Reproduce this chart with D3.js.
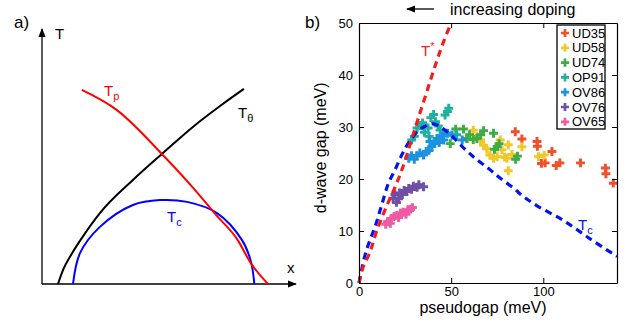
<!DOCTYPE html>
<html>
<head>
<meta charset="utf-8">
<script src="https://cdn.jsdelivr.net/npm/d3@7"></script>
<style>
  body { margin: 0; background: #fff; }
  svg { display: block; font-family: "Liberation Sans", Arial, sans-serif; }
</style>
</head>
<body>
<svg id="chart" width="632" height="325"></svg>
<script>
// ---- panel a: schematic curves (normalized units) ----
const thetaCurve = [[0.063,0],[0.085,0.06],[0.115,0.115],[0.160,0.185],[0.228,0.278],[0.358,0.408],[0.472,0.510],[0.594,0.616],[0.701,0.698],[0.795,0.765]];
const pairCurve = [[0.157,0.761],[0.295,0.682],[0.472,0.510],[0.596,0.376],[0.685,0.271],[0.770,0.173],[0.822,0.082],[0.890,0]];
const tcDome = [[0.122,0],[0.150,0.122],[0.228,0.224],[0.358,0.310],[0.465,0.329],[0.571,0.322],[0.689,0.278],[0.787,0.173],[0.822,0.090],[0.836,0]];

// ---- panel b: gap data (meV) ----
const seriesNames = ["UD35", "UD58", "UD74", "OP91", "OV86", "OV76", "OV65"];
const seriesColors = ["#f0512a", "#f1c72a", "#3cad45", "#20b09e", "#1b93e0", "#6e50a6", "#ef5aa5"];
const ud35 = [[84.8,29.1],[88.4,27.7],[96.6,27.2],[96.8,26.3],[99,23],[101,23.1],[104.7,25.3],[107,22.6],[109,23.1],[120.2,23.1],[133.7,22.1],[134,21],[138,19.2]];
const ud58 = [[59,27.8],[62,29.4],[64,28.2],[66,27.5],[67.6,26.5],[69.4,25.8],[71,24.6],[73,24],[75,24.3],[76.6,27.5],[77.6,25.6],[79,24.2],[80.3,24],[81,26.6],[81,21.6],[83,24.7],[88.4,26.2],[97.4,24.3],[100.5,24.6]];
const ud74 = [[49.5,26.8],[52.5,29.6],[56.7,29.6],[58.5,27.8],[60,28.5],[62,27.6],[64,27.8],[66,28.5],[67.6,29.3],[73,28.8],[73.5,25.7],[75,26.2],[76,26.8],[85,23.8],[86,24.4]];
const op91 = [[28.6,27.5],[30,28.2],[31.5,29.8],[33,30.3],[34.5,30.8],[35.5,29],[37.5,29.8],[39,31.8],[40.5,32.4],[41.5,31],[43,30.2],[44,29.4],[45.8,28.8],[46.7,32.3],[48,33],[48.7,33.6],[38,28.2],[53,28.5]];
const ov86 = [[27,24],[28.5,24.5],[30,23.8],[31.5,24.5],[33,25],[35,24.6],[36.5,25.3],[38,25.5],[39.5,26.3],[41,26.8],[42.3,27.8],[43.5,27],[45,28.3],[46,27.5],[48,28.8],[50.5,28.4],[56,27.5],[38.5,27.2]];
const ov76 = [[18.5,16.3],[19.5,17],[20.3,15.5],[21.5,16.2],[22,17.3],[23.5,17],[24.5,17.8],[26,17.6],[27,18.2],[28.5,18],[29.5,18.6],[31.5,18.4],[32.5,18.9],[35,18.5]];
const ov65 = [[14.5,11.3],[15.5,11.8],[17,11.5],[17.5,12.4],[19,12.8],[20.5,13],[21.5,12.6],[22.5,13.4],[24,13.6],[25.5,13.2],[26.5,14.1],[28,14.2],[29,14.5]];
const seriesData = [ud35, ud58, ud74, op91, ov86, ov76, ov65];

const tStarLine = [[0,0],[2,2.8],[6,6],[9.6,10],[15,14.8],[20,18.8],[24,22.5],[28,27],[32,31.5],[37,37],[42,42.5],[46,46.5],[50,50]];
const tcLine = [[0,0],[3.3,5.4],[6,8.3],[8.7,10.8],[12.3,15],[16,19.2],[19.6,21.8],[23.2,24.6],[26.8,26.9],[33,29.5],[40,30.6],[47.7,29.1],[56.7,26],[63,24],[70.3,22],[76.5,20.2],[84,18.2],[89.3,16.6],[96.4,14.9],[111,12],[125.4,8.5],[140,5.1]];

const xTicks = [0, 50, 100];
const yTicks = [0, 10, 20, 30, 40, 50];

const svg = d3.select("#chart");

// ===== panel a =====
const ax = d3.scaleLinear().domain([0, 1]).range([42, 296]);
const ay = d3.scaleLinear().domain([0, 1]).range([284, 29]);
const aLine = d3.line().x(d => ax(d[0])).y(d => ay(d[1])).curve(d3.curveMonotoneX);
const domeLine = d3.line().x(d => ax(d[0])).y(d => ay(d[1])).curve(d3.curveCatmullRom);

const defs = svg.append("defs");
defs.append("marker")
  .attr("id", "arrow")
  .attr("viewBox", "0 0 10 10")
  .attr("refX", 9).attr("refY", 5)
  .attr("markerWidth", 9).attr("markerHeight", 9)
  .attr("markerUnits", "userSpaceOnUse")
  .attr("orient", "auto")
  .append("path").attr("d", "M0,1 L10,5 L0,9 Z").attr("fill", "#000");

const pa = svg.append("g").attr("class", "panel-a");
pa.append("line")
  .attr("x1", ax(0)).attr("y1", ay(0)).attr("x2", ax(0)).attr("y2", ay(1))
  .attr("stroke", "#000").attr("stroke-width", 1.3).attr("marker-end", "url(#arrow)");
pa.append("line")
  .attr("x1", ax(0)).attr("y1", ay(0)).attr("x2", ax(1)).attr("y2", ay(0))
  .attr("stroke", "#000").attr("stroke-width", 1.3).attr("marker-end", "url(#arrow)");

pa.append("path").datum(thetaCurve).attr("d", aLine)
  .attr("fill", "none").attr("stroke", "#000").attr("stroke-width", 2);
pa.append("path").datum(tcDome).attr("d", domeLine)
  .attr("fill", "none").attr("stroke", "#0000ff").attr("stroke-width", 2);
pa.append("path").datum(pairCurve).attr("d", aLine)
  .attr("fill", "none").attr("stroke", "#ff0000").attr("stroke-width", 2);

pa.append("text").attr("x", 14).attr("y", 28).attr("font-size", 17).text("a)");
pa.append("text").attr("x", 55).attr("y", 39).attr("font-size", 15).text("T");
pa.append("text").attr("x", 287).attr("y", 273).attr("font-size", 15).text("x");

function subLabel(g, px, py, main, sub, color, supMode) {
  const t = g.append("text").attr("x", px).attr("y", py).attr("font-size", 15).attr("fill", color);
  t.append("tspan").text(main);
  t.append("tspan").attr("font-size", 11).attr("dy", supMode ? -6 : 4).text(sub);
}
subLabel(pa, 104, 96, "T", "p", "#ff0000");
subLabel(pa, 238, 118, "T", "θ", "#000");
subLabel(pa, 167, 222, "T", "c", "#0000ff");

// ===== panel b =====
const x = d3.scaleLinear().domain([0, 140]).range([359, 617]);
const y = d3.scaleLinear().domain([0, 50]).range([283, 23]);
const pb = svg.append("g").attr("class", "panel-b");

// scatter
const cross = d3.symbol().type(d3.symbolCross).size(44);
seriesData.forEach((pts, i) => {
  pb.append("g").selectAll("path")
    .data(pts)
    .join("path")
    .attr("d", cross)
    .attr("transform", d => `translate(${x(d[0])},${y(d[1])})`)
    .attr("fill", seriesColors[i]);
});

// dashed curves
const bLine = d3.line().x(d => x(d[0])).y(d => y(d[1])).curve(d3.curveCatmullRom);
pb.append("path").datum(tcLine).attr("d", bLine)
  .attr("fill", "none").attr("stroke", "#0014ee").attr("stroke-width", 3.2)
  .attr("stroke-dasharray", "7,5");
pb.append("path").datum(tStarLine).attr("d", bLine)
  .attr("fill", "none").attr("stroke", "#f41c1c").attr("stroke-width", 3.2)
  .attr("stroke-dasharray", "7,5");

// axes: inward ticks on all four sides
const tickLen = 5;
const axBottom = pb.append("g").attr("transform", `translate(0,${y(0)})`)
  .call(d3.axisBottom(x).tickValues(xTicks).tickSizeInner(-tickLen).tickSizeOuter(0).tickPadding(4));
const axLeft = pb.append("g").attr("transform", `translate(${x(0)},0)`)
  .call(d3.axisLeft(y).tickValues(yTicks).tickSizeInner(-tickLen).tickSizeOuter(0).tickPadding(6));
const axTop = pb.append("g").attr("transform", `translate(0,${y(50)})`)
  .call(d3.axisTop(x).tickValues(xTicks).tickSizeInner(-tickLen).tickSizeOuter(0).tickFormat(""));
const axRight = pb.append("g").attr("transform", `translate(${x(140)},0)`)
  .call(d3.axisRight(y).tickValues(yTicks).tickSizeInner(-tickLen).tickSizeOuter(0).tickFormat(""));
[axBottom, axLeft, axTop, axRight].forEach(g => {
  g.selectAll("path.domain").attr("stroke", "#000").attr("stroke-width", 1.2);
  g.selectAll(".tick line").attr("stroke", "#000").attr("stroke-width", 1);
  g.selectAll(".tick text").attr("font-size", 13).attr("fill", "#000")
    .attr("font-family", "Liberation Sans, Arial, sans-serif");
});

// axis titles
pb.append("text").attr("x", 483).attr("y", 313).attr("text-anchor", "middle")
  .attr("font-size", 16).text("pseudogap (meV)");
pb.append("text").attr("transform", `translate(326,${y(26)}) rotate(-90)`)
  .attr("text-anchor", "middle").attr("font-size", 16).text("d-wave gap (meV)");

pb.append("text").attr("x", 305).attr("y", 28).attr("font-size", 17).text("b)");

// increasing doping arrow
pb.append("line").attr("x1", 434).attr("y1", 9).attr("x2", 407).attr("y2", 9)
  .attr("stroke", "#000").attr("stroke-width", 1.3).attr("marker-end", "url(#arrow)");
pb.append("text").attr("x", 450).attr("y", 15).attr("font-size", 16).text("increasing doping");

// curve labels
subLabel(pb, 421, 56, "T", "*", "#f41c1c", true);
subLabel(pb, 578, 230, "T", "c", "#0014ee");

// legend
const lg = pb.append("g");
lg.append("rect").attr("x", 557).attr("y", 25).attr("width", 48).attr("height", 104)
  .attr("fill", "#fff").attr("stroke", "#000").attr("stroke-width", 1.3);
const legSym = d3.symbol().type(d3.symbolCross).size(36);
seriesNames.forEach((name, i) => {
  const cy = 33 + i * 14.8;
  lg.append("path").attr("d", legSym).attr("transform", `translate(565,${cy})`).attr("fill", seriesColors[i]);
  lg.append("text").attr("x", 572).attr("y", cy + 4.5).attr("font-size", 13).text(name);
});
</script>
</body>
</html>
